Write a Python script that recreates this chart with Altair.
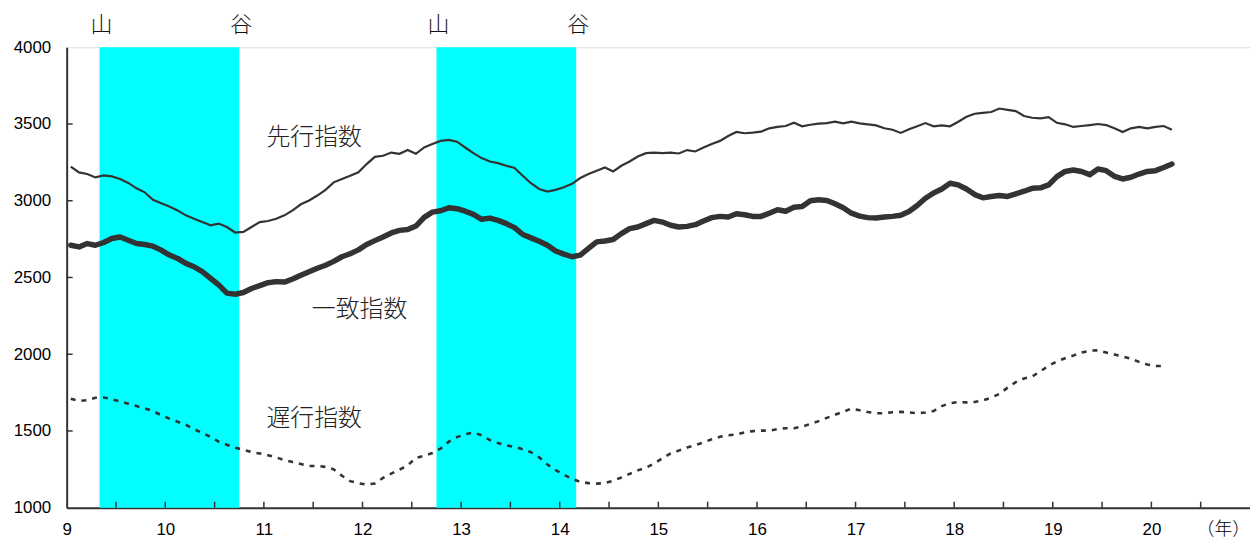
import altair as alt
import pandas as pd

# Monthly index values, month 0 = January of year 9 (Heisei)
leading = [3223, 3185, 3174, 3152, 3165, 3159, 3142, 3116, 3081, 3055, 3006, 2984,
           2963, 2937, 2905, 2883, 2861, 2840, 2851, 2829, 2793, 2797, 2829, 2861,
           2868, 2883, 2905, 2937, 2977, 3002, 3034, 3071, 3120, 3142, 3163, 3185,
           3239, 3286, 3293, 3314, 3306, 3331, 3306, 3347, 3369, 3390, 3396, 3385,
           3347, 3310, 3278, 3256, 3245, 3228, 3213, 3163, 3114, 3077, 3060, 3071,
           3088, 3110, 3148, 3174, 3196, 3217, 3191, 3228, 3256, 3288, 3310, 3314,
           3310, 3314, 3308, 3330, 3321, 3347, 3369, 3390, 3422, 3448, 3440, 3444,
           3450, 3472, 3481, 3487, 3508, 3485, 3495, 3502, 3506, 3515, 3504, 3515,
           3504, 3498, 3491, 3472, 3463, 3442, 3466, 3485, 3506, 3485, 3491, 3485,
           3515, 3547, 3567, 3573, 3578, 3601, 3592, 3584, 3552, 3541, 3537, 3545,
           3508, 3498, 3481, 3487, 3493, 3500, 3493, 3472, 3448, 3472, 3481, 3472,
           3481, 3487, 3463]

coincident = [2710, 2699, 2721, 2710, 2728, 2754, 2764, 2743, 2721, 2715, 2704, 2678,
              2646, 2624, 2592, 2570, 2538, 2495, 2452, 2398, 2391, 2402, 2428, 2447,
              2466, 2473, 2470, 2490, 2515, 2538, 2560, 2580, 2605, 2635, 2655, 2680,
              2715, 2740, 2764, 2790, 2807, 2812, 2835, 2892, 2926, 2935, 2954, 2948,
              2932, 2911, 2879, 2887, 2872, 2851, 2825, 2780, 2758, 2736, 2710, 2673,
              2652, 2635, 2646, 2689, 2732, 2738, 2747, 2786, 2818, 2829, 2851, 2872,
              2861, 2840, 2829, 2833, 2844, 2868, 2890, 2898, 2894, 2915, 2909, 2898,
              2898, 2919, 2941, 2932, 2958, 2962, 3000, 3006, 3002, 2980, 2954, 2919,
              2900, 2890, 2887, 2894, 2898, 2905, 2930, 2969, 3016, 3051, 3077, 3114,
              3103, 3077, 3040, 3019, 3028, 3034, 3028, 3045, 3062, 3081, 3084, 3103,
              3157, 3191, 3200, 3191, 3170, 3207, 3196, 3159, 3142, 3153, 3174, 3191,
              3196, 3217, 3239]

lagging = [1710, 1695, 1700, 1716, 1718, 1707, 1692, 1678, 1662, 1647, 1630, 1603,
           1580, 1560, 1540, 1512, 1487, 1462, 1430, 1410, 1391, 1378, 1362, 1353,
           1341, 1328, 1310, 1297, 1284, 1272, 1272, 1266, 1250, 1208, 1173, 1159,
           1151, 1158, 1194, 1222, 1248, 1276, 1324, 1338, 1356, 1385, 1430, 1460,
           1478, 1490, 1472, 1440, 1422, 1406, 1396, 1381, 1362, 1328, 1281, 1245,
           1215, 1188, 1168, 1160, 1157, 1160, 1176, 1197, 1220, 1243, 1261, 1288,
           1322, 1354, 1372, 1392, 1408, 1425, 1446, 1462, 1472, 1477, 1491, 1499,
           1502, 1502, 1512, 1518, 1518, 1528, 1546, 1564, 1585, 1605, 1625, 1646,
           1635, 1623, 1615, 1615, 1622, 1624, 1621, 1616, 1620, 1630, 1662, 1681,
           1688, 1686, 1689, 1699, 1717, 1741, 1782, 1818, 1842, 1855, 1889, 1925,
           1953, 1974, 1991, 2011, 2023, 2025, 2011, 1998, 1985, 1970, 1950, 1933,
           1923, 1923]

# Recession periods (peak -> trough), in month boundaries from January of year 9
recession_start = [4, 45]
recession_end = [21, 62]
peak_label = "山"
trough_label = "谷"

x_tick_labels = [9, 10, 11, 12, 13, 14, 15, 16, 17, 18, 19, 20]
y_ticks = [1000, 1500, 2000, 2500, 3000, 3500, 4000]

series_names = ["先行指数", "一致指数", "遅行指数"]
label_x = [11.51, 11.97, 11.51]
label_y = [3409, 2289, 1578]

W, H = 1190, 463
DARK = "#333333"
JP = "Noto Sans CJK JP"
NUM = "Liberation Sans, Arial, sans-serif"


def month_x(i):
    return 9 + (i + 0.5) / 12


def series_df(vals):
    return pd.DataFrame({"x": [month_x(i) for i in range(len(vals))], "v": vals})


xs = alt.Scale(domain=[9, 21], nice=False, zero=False)
ys = alt.Scale(domain=[1000, 4000], nice=False, zero=False)

rec_df = pd.DataFrame({
    "s": [9 + m / 12 for m in recession_start],
    "e": [9 + m / 12 for m in recession_end],
})
bands = alt.Chart(rec_df).mark_rect(color="#00FFFF").encode(
    x=alt.X("s:Q", scale=xs, axis=alt.Axis(
        values=x_tick_labels, format="d", title=None, tickSize=0, grid=False,
        domainColor=DARK, domainWidth=2, labelFont=NUM,
        labelFontSize=17, labelColor="#000", labelPadding=22,
        labelBaseline="middle", labelFlush=False)),
    x2="e:Q",
    y=alt.value(0),
    y2=alt.value(H),
)

mark_df = pd.DataFrame({
    "x": [9 + m / 12 for m in recession_start] + [9 + m / 12 for m in recession_end],
    "t": [peak_label] * len(recession_start) + [trough_label] * len(recession_end),
})
peak_text = alt.Chart(mark_df).mark_text(
    font=JP, fontSize=22, fontWeight=300, color="#111", baseline="middle",
    align="center", dx=2
).encode(x=alt.X("x:Q", scale=xs), y=alt.value(-22), text="t:N")

lead_line = alt.Chart(series_df(leading)).mark_line(
    color=DARK, strokeWidth=2.2
).encode(x=alt.X("x:Q", scale=xs), y=alt.Y("v:Q", scale=ys, axis=alt.Axis(
    values=y_ticks, format="d", title=None, tickSize=0, grid=False, domainColor=DARK,
    domainWidth=2, labelFont=NUM, labelFontSize=17,
    labelColor="#000", labelPadding=16)))

coin_line = alt.Chart(series_df(coincident)).mark_line(
    color=DARK, strokeWidth=5.5, strokeJoin="round", strokeCap="round"
).encode(x=alt.X("x:Q", scale=xs), y=alt.Y("v:Q", scale=ys))

lag_line = alt.Chart(series_df(lagging)).mark_line(
    color=DARK, strokeWidth=2.6, strokeDash=[5, 6]
).encode(x=alt.X("x:Q", scale=xs), y=alt.Y("v:Q", scale=ys))

xt_df = pd.DataFrame({"x": [9 + k * 0.5 for k in range(1, 24)]})
x_ticks = alt.Chart(xt_df).mark_rule(color=DARK, strokeWidth=1.5).encode(
    x=alt.X("x:Q", scale=xs), y=alt.value(H - 6), y2=alt.value(H))

yt_df = pd.DataFrame({"v": y_ticks[1:-1]})
y_ticks_layer = alt.Chart(yt_df).mark_rule(color=DARK, strokeWidth=1.5).encode(
    y=alt.Y("v:Q", scale=ys), x=alt.value(0), x2=alt.value(6))

lab_df = pd.DataFrame({"x": label_x, "v": label_y, "t": series_names})
labels = alt.Chart(lab_df).mark_text(
    font=JP, fontSize=24, fontWeight=300, color="#222", align="center", baseline="middle"
).encode(x=alt.X("x:Q", scale=xs), y=alt.Y("v:Q", scale=ys), text="t:N")

unit_df = pd.DataFrame({"x": [20.73], "t": ["（年）"]})
unit = alt.Chart(unit_df).mark_text(
    font=JP, fontSize=18, fontWeight=300, color="#000", align="center", baseline="middle"
).encode(x=alt.X("x:Q", scale=xs), y=alt.value(H + 22), text="t:N")

chart = alt.layer(
    bands, lag_line, lead_line, coin_line, x_ticks, y_ticks_layer,
    labels, peak_text, unit
).properties(
    width=W, height=H,
    autosize=alt.AutoSizeParams(type="none"),
    padding={"left": 59, "top": 38, "right": 0, "bottom": 30},
).configure_view(
    stroke="#999999", strokeWidth=2
).configure(background="white")

chart.save("out.html", embed_options={"renderer": "svg", "actions": False})
